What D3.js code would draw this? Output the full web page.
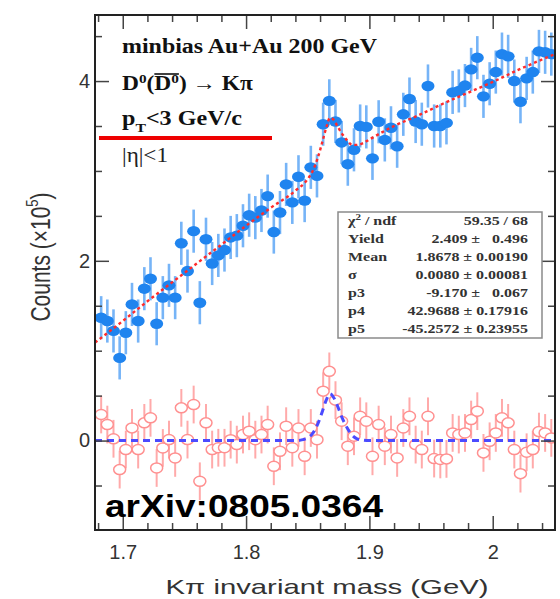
<!DOCTYPE html>
<html><head><meta charset="utf-8">
<script src="https://cdn.jsdelivr.net/npm/d3@7"></script>
<style>body{margin:0;background:#fff} svg{display:block}</style>
</head><body><svg id="c" width="560" height="599"></svg>
<script>
// ---------------- data ----------------
const massBins = [
1.6825,1.6875,1.6925,1.6975,1.7025,1.7075,1.7125,1.7175,1.7225,1.7275,
1.7325,1.7375,1.7425,1.7475,1.7525,1.7575,1.7625,1.7675,1.7725,1.7775,
1.7825,1.7875,1.7925,1.7975,1.8025,1.8075,1.8125,1.8175,1.8225,1.8275,
1.8325,1.8375,1.8425,1.8475,1.8525,1.8575,1.8625,1.8675,1.8725,1.8775,
1.8825,1.8875,1.8925,1.8975,1.9025,1.9075,1.9125,1.9175,1.9225,1.9275,
1.9325,1.9375,1.9425,1.9475,1.9525,1.9575,1.9625,1.9675,1.9725,1.9775,
1.9825,1.9875,1.9925,1.9975,2.0025,2.0075,2.0125,2.0175,2.0225,2.0275,
2.0325,2.0375,2.0425,2.0475];
// same-event K-pi pairs (x10^5), blue filled markers
const sameEventCounts = [
1.367,1.33,1.22,0.92,1.20,1.515,1.33,1.69,1.80,1.30,
1.59,1.727,1.59,2.195,1.886,2.33,1.534,2.24,1.97,2.06,
2.12,2.26,2.28,2.39,2.507,2.48,2.56,2.72,2.32,2.537,
2.85,2.65,2.935,2.67,3.04,2.945,3.52,3.78,3.55,3.317,
3.075,3.235,3.50,3.49,3.14,3.547,3.345,3.48,3.275,3.63,
3.80,3.55,3.52,3.945,3.50,3.50,3.535,3.874,3.89,3.95,
4.13,4.26,3.83,3.97,4.10,4.30,4.275,4.00,3.77,4.03,
4.10,4.33,4.32,4.30];
// background-subtracted residuals (x10^5), red open markers
const residualCounts = [
0.29,0.178,0.02,-0.323,-0.10,0.141,-0.10,0.197,0.253,-0.305,
-0.082,0.011,-0.193,0.364,0.011,0.401,-0.453,0.197,-0.10,-0.08,
-0.08,0.01,-0.045,0.067,0.104,0.01,0.067,0.178,-0.286,-0.119,
0.16,-0.08,0.14,-0.175,0.14,0.01,0.55,0.77,0.45,0.215,
-0.063,0.048,0.27,0.215,-0.175,0.178,-0.063,0.067,-0.193,0.14,
0.27,-0.045,-0.10,0.27,-0.20,-0.21,-0.204,0.085,0.067,0.085,
0.234,0.327,-0.137,-0.008,0.085,0.253,0.197,-0.10,-0.368,-0.13,
-0.10,0.10,0.085,0.03];
const blueError = 0.24;
const redError = 0.21;
// fit curve (background + gaussian)
const fitMass  = [1.6775,1.70,1.72,1.74,1.76,1.78,1.80,1.82,1.84,1.85,1.854,1.858,1.862,1.865,1.868,1.871,1.874,1.878,1.882,1.886,1.89,1.895,1.90,1.92,1.94,1.96,1.98,2.00,2.02,2.04,2.0505];
const fitValue = [1.09,1.33,1.55,1.76,1.97,2.18,2.39,2.59,2.78,2.91,3.00,3.14,3.33,3.48,3.59,3.57,3.50,3.41,3.34,3.29,3.29,3.31,3.35,3.50,3.62,3.75,3.87,3.99,4.12,4.24,4.30];
// gaussian signal
const gaussMass  = [1.6775,1.842,1.846,1.850,1.854,1.858,1.862,1.865,1.868,1.871,1.874,1.878,1.882,1.886,1.890,1.895,1.90,2.0505];
const gaussValue = [0,0,0.01,0.03,0.08,0.18,0.33,0.45,0.52,0.48,0.39,0.25,0.14,0.06,0.02,0.005,0,0];
// axes
const xMajorTicks = [1.7,1.8,1.9,2.0];
const xMajorLabels = ["1.7","1.8","1.9","2"];
const xMinorTicks = [1.68,1.72,1.74,1.76,1.78,1.82,1.84,1.86,1.88,1.92,1.94,1.96,1.98,2.02,2.04];
const yMajorTicks = [0,2,4];
const yMinorTicks = [-0.5,0.5,1,1.5,2.5,3,3.5,4.5];
// stats box
const statNames  = ["χ2 / ndf","Yield","Mean","σ","p3","p4","p5"];
const statValues = ["59.35 / 68","2.409 ±   0.496","1.8678 ± 0.00190","0.0080 ± 0.00081","-9.170 ±   0.067","42.9688 ± 0.17916","-45.2572 ± 0.23955"];

// ---------------- drawing ----------------
const svg = d3.select("#c");
const sans = "'Liberation Sans', Arial, Helvetica, sans-serif";
const serif = "'Liberation Serif', 'Times New Roman', Times, serif";
const L = 95, R = 555, T = 15, B = 530;
const x = d3.scaleLinear().domain([1.6775, 2.0505]).range([L, R]);
const y = d3.scaleLinear().domain([-0.995, 4.735]).range([B, T]);

svg.append("rect").attr("width",560).attr("height",599).attr("fill","#fff");
svg.append("defs").append("clipPath").attr("id","clip")
  .append("rect").attr("x",L).attr("y",T).attr("width",R-L).attr("height",B-T);
const plot = svg.append("g").attr("clip-path","url(#clip)");

// blue same-event points
plot.append("g").selectAll("line").data(massBins).join("line")
  .attr("x1",d=>x(d)).attr("x2",d=>x(d))
  .attr("y1",(d,i)=>y(sameEventCounts[i]+blueError))
  .attr("y2",(d,i)=>y(sameEventCounts[i]-blueError))
  .attr("stroke","#76b4f7").attr("stroke-width",2.6);
plot.append("g").selectAll("ellipse").data(massBins).join("ellipse")
  .attr("cx",d=>x(d)).attr("cy",(d,i)=>y(sameEventCounts[i]))
  .attr("rx",6.5).attr("ry",5.2).attr("fill","#1f84ef");

// red residual points
plot.append("g").selectAll("line").data(massBins).join("line")
  .attr("x1",d=>x(d)).attr("x2",d=>x(d))
  .attr("y1",(d,i)=>y(residualCounts[i]+redError))
  .attr("y2",(d,i)=>y(residualCounts[i]-redError))
  .attr("stroke","#ffaaaa").attr("stroke-width",2);
plot.append("g").selectAll("ellipse").data(massBins).join("ellipse")
  .attr("cx",d=>x(d)).attr("cy",(d,i)=>y(residualCounts[i]))
  .attr("rx",6).attr("ry",5).attr("fill","#fff")
  .attr("stroke","#ff9090").attr("stroke-width",1.5);

// fit curves
const fitLine = d3.line().x(d=>x(d[0])).y(d=>y(d[1])).curve(d3.curveMonotoneX);
plot.append("path").datum(fitMass.map((m,i)=>[m,fitValue[i]]))
  .attr("d",fitLine).attr("fill","none").attr("stroke","#ff2b2b")
  .attr("stroke-width",2.4).attr("stroke-dasharray","3,3");
plot.append("path").datum(gaussMass.map((m,i)=>[m,gaussValue[i]]))
  .attr("d",fitLine).attr("fill","none").attr("stroke","#4b4bff")
  .attr("stroke-width",3).attr("stroke-dasharray","7,5");

// ---------------- axes ----------------
function styleAxis(g){
  g.select(".domain").remove();
  g.selectAll(".tick line").attr("stroke","#444").attr("stroke-width",1.5);
}
const tickLabel = d3.format("");
svg.append("g").attr("transform",`translate(${L},0)`)
  .call(d3.axisRight(y).tickValues(yMajorTicks).tickSize(14).tickFormat("")).call(styleAxis);
svg.append("g").attr("transform",`translate(${L},0)`)
  .call(d3.axisRight(y).tickValues(yMinorTicks).tickSize(7).tickFormat("")).call(styleAxis);
svg.append("g").attr("transform",`translate(${R},0)`)
  .call(d3.axisLeft(y).tickValues(yMajorTicks).tickSize(14).tickFormat("")).call(styleAxis);
svg.append("g").attr("transform",`translate(${R},0)`)
  .call(d3.axisLeft(y).tickValues(yMinorTicks).tickSize(7).tickFormat("")).call(styleAxis);
const yLab = svg.append("g").attr("transform",`translate(${L},0)`)
  .call(d3.axisLeft(y).tickValues(yMajorTicks).tickSize(0).tickPadding(5).tickFormat(tickLabel));
yLab.select(".domain").remove();
yLab.selectAll("text").attr("font-family",sans).attr("font-size",20).attr("fill","#333");

svg.append("g").attr("transform",`translate(0,${B})`)
  .call(d3.axisTop(x).tickValues(xMajorTicks).tickSize(14).tickFormat("")).call(styleAxis);
svg.append("g").attr("transform",`translate(0,${B})`)
  .call(d3.axisTop(x).tickValues(xMinorTicks).tickSize(7).tickFormat("")).call(styleAxis);
svg.append("g").attr("transform",`translate(0,${T})`)
  .call(d3.axisBottom(x).tickValues(xMajorTicks).tickSize(14).tickFormat("")).call(styleAxis);
svg.append("g").attr("transform",`translate(0,${T})`)
  .call(d3.axisBottom(x).tickValues(xMinorTicks).tickSize(7).tickFormat("")).call(styleAxis);
const xLab = svg.append("g").attr("transform",`translate(0,${B})`)
  .call(d3.axisBottom(x).tickValues(xMajorTicks).tickSize(0).tickPadding(15)
        .tickFormat((d,i)=>xMajorLabels[i]));
xLab.select(".domain").remove();
xLab.selectAll("text").attr("font-family",sans).attr("font-size",20).attr("fill","#333");

// frame
svg.append("rect").attr("x",L).attr("y",T).attr("width",R-L).attr("height",B-T)
  .attr("fill","none").attr("stroke","#222").attr("stroke-width",2);

// axis titles
const yt = svg.append("text").attr("transform","translate(50,257) scale(1.3,1) rotate(-90)")
  .attr("text-anchor","middle").attr("font-family",sans).attr("font-size",21).attr("fill","#333");
yt.append("tspan").text("Counts (×10");
yt.append("tspan").attr("font-size",13).attr("dy",-9).text("5");
yt.append("tspan").attr("dy",9).text(")");
svg.append("text").attr("x",327).attr("y",594).attr("text-anchor","middle")
  .attr("font-family",sans).attr("font-size",21).attr("fill","#333")
  .attr("textLength",323).attr("lengthAdjust","spacingAndGlyphs")
  .text("Kπ invariant mass (GeV)");

// ---------------- legend text block ----------------
function stretch(g, text, x0, yb, target){
  const w = text.node().getComputedTextLength();
  g.attr("transform",`translate(${x0},${yb}) scale(${target/w},1)`);
}
{
  const g = svg.append("g");
  const t = g.append("text").attr("font-family",serif).attr("font-weight","bold")
    .attr("font-size",20).attr("fill","#111").text("minbias Au+Au 200 GeV");
  stretch(g,t,122,53,255);
}
{
  const g = svg.append("g");
  const t = g.append("text").attr("font-family",serif).attr("font-weight","bold")
    .attr("font-size",20).attr("fill","#111");
  t.append("tspan").text("D");
  t.append("tspan").attr("font-size",13).attr("dy",-7).text("0");
  t.append("tspan").attr("dy",7).text("(D");
  t.append("tspan").attr("font-size",13).attr("dy",-7).text("0");
  t.append("tspan").attr("dy",7).text(") → Kπ");
  stretch(g,t,122,90,131);
  const n = t.node();
  const x1 = n.getStartPositionOfChar(3).x, x2 = n.getEndPositionOfChar(4).x;
  g.append("line").attr("x1",x1).attr("x2",x2).attr("y1",-16).attr("y2",-16)
    .attr("stroke","#111").attr("stroke-width",1.6);
}
{
  const g = svg.append("g");
  const t = g.append("text").attr("font-family",serif).attr("font-weight","bold")
    .attr("font-size",20).attr("fill","#111");
  t.append("tspan").text("p");
  t.append("tspan").attr("font-size",13).attr("dy",7).text("T");
  t.append("tspan").attr("dy",-7).text("<3 GeV/c");
  stretch(g,t,122,125,120);
}
{
  const g = svg.append("g");
  const t = g.append("text").attr("font-family",serif).attr("font-weight","normal")
    .attr("font-size",20).attr("fill","#222").text("|η|<1");
  stretch(g,t,122,162,46);
}
svg.append("line").attr("x1",99).attr("x2",272).attr("y1",138).attr("y2",138)
  .attr("stroke","#ee0000").attr("stroke-width",4);

// ---------------- stats box ----------------
svg.append("rect").attr("x",338).attr("y",212).attr("width",204).attr("height",126)
  .attr("fill","#fff").attr("stroke","#8a8a8a").attr("stroke-width",1.5);
const rowY = d3.scalePoint().domain(d3.range(statNames.length)).range([225,333]);
let sx = 1.2;
{
  const probe = svg.append("text").attr("font-family",serif).attr("font-weight","bold")
    .attr("font-size",13).attr("xml:space","preserve").style("white-space","pre")
    .text(statValues[statValues.length-1]);
  sx = 126 / probe.node().getComputedTextLength();
  probe.remove();
}
statNames.forEach((name,i)=>{
  const tl = svg.append("text").attr("transform",`translate(348,${rowY(i)}) scale(${sx},1)`)
    .attr("font-family",serif).attr("font-weight","bold").attr("font-size",13).attr("fill","#333");
  if (name.startsWith("χ2")) {
    tl.append("tspan").text("χ");
    tl.append("tspan").attr("font-size",9).attr("dy",-5).text("2");
    tl.append("tspan").attr("dy",5).text(" / ndf");
  } else tl.text(name);
  svg.append("text").attr("transform",`translate(528,${rowY(i)}) scale(${sx},1)`)
    .attr("text-anchor","end").attr("font-family",serif).attr("font-weight","bold")
    .attr("font-size",13).attr("fill","#333")
    .attr("xml:space","preserve").style("white-space","pre").text(statValues[i]);
});

// arXiv label
svg.append("text").attr("x",105).attr("y",517).attr("font-family",sans)
  .attr("font-weight","bold").attr("font-size",32).attr("fill","#000")
  .attr("textLength",278).attr("lengthAdjust","spacingAndGlyphs").text("arXiv:0805.0364");
</script></body></html>
